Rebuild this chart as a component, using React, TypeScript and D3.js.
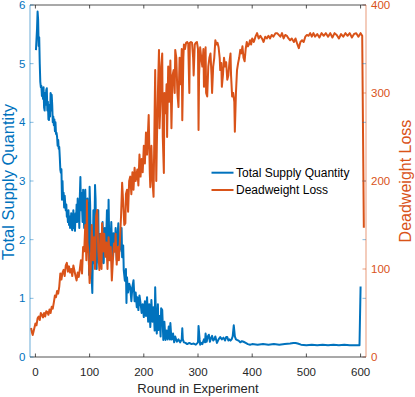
import React from 'react'
import * as d3 from 'd3'

// Total Supply Quantity (left axis)
const supplyRounds = [
  1, 3, 4, 5, 6, 7, 8, 9, 10, 11, 12, 13, 14, 15, 16, 17, 18, 19, 20, 21, 22, 23, 24, 25, 26, 27, 28, 29, 30,
  31, 32, 33, 34, 35, 36, 37, 38, 39, 40, 41, 42, 43, 44, 45, 46, 47, 48, 49, 50, 51, 52, 53, 54, 55, 56, 57,
  58, 59, 60, 61, 62, 63, 64, 65, 66, 67, 68, 69, 70, 71, 72, 73, 74, 75, 76, 77, 78, 79, 80, 81, 82, 83, 84,
  85, 86, 87, 88, 89, 90, 91, 92, 93, 94, 95, 96, 97, 98, 99, 100, 101, 102, 103, 104, 105, 106, 107, 108,
  109, 110, 111, 112, 113, 114, 115, 116, 117, 118, 119, 120, 122, 124, 126, 128, 130, 132, 134, 135, 136,
  138, 140, 142, 144, 146, 148, 150, 151, 153, 155, 157, 159, 160, 162, 163, 165, 167, 168, 169, 171, 173,
  175, 177, 179, 181, 183, 185, 187, 188, 190, 192, 194, 196, 198, 200, 202, 204, 206, 208, 210, 212, 214,
  216, 218, 220, 221, 223, 224, 226, 227, 229, 231, 232, 234, 236, 238, 240, 242, 244, 246, 248, 249, 251,
  252, 254, 256, 258, 261, 264, 267, 270, 271, 272, 274, 277, 280, 284, 288, 292, 296, 300, 301, 303, 304,
  306, 308, 311, 313, 314, 316, 318, 320, 322, 324, 326, 328, 330, 332, 335, 338, 341, 344, 347, 350, 352,
  354, 356, 358, 360, 362, 364, 366, 368, 370, 372, 375, 378, 381, 384, 388, 392, 396, 400, 410, 420, 430,
  440, 450, 460, 470, 476, 480, 484, 490, 500, 510, 520, 530, 540, 550, 560, 570, 580, 590, 598, 600,
]
const supplyValues = [
  5.23, 5.6, 5.89, 5.75, 5.3, 5.45, 5.0, 4.69, 4.6, 4.62, 4.45, 4.55, 4.4, 4.6, 4.25, 4.2, 4.5, 4.3, 4.55,
  4.58, 4.2, 4.35, 4.05, 4.04, 4.3, 4.1, 4.5, 4.2, 4.47, 4.3, 4.0, 4.1, 3.95, 4.05, 3.85, 4.0, 3.8, 3.82,
  3.75, 3.6, 3.7, 3.55, 3.58, 3.4, 3.19, 3.14, 3.2, 2.68, 3.0, 2.7, 2.8, 2.55, 2.75, 2.62, 2.5, 2.6, 2.39,
  2.45, 2.3, 2.5, 2.25, 2.4, 2.2, 2.25, 2.45, 2.2, 2.16, 2.3, 2.5, 2.2, 2.4, 2.15, 2.45, 2.3, 2.6, 2.3, 2.7,
  2.4, 2.55, 2.2, 2.75, 3.07, 2.5, 2.8, 2.56, 2.3, 2.85, 2.4, 2.2, 2.7, 2.85, 2.4, 2.1, 2.45, 2.7, 2.0, 2.4,
  1.4, 2.9, 2.6, 1.8, 2.2, 1.3, 1.09, 1.8, 2.5, 1.6, 2.2, 2.93, 2.7, 2.0, 1.5, 2.28, 1.9, 2.5, 1.6, 2.1, 1.7,
  2.0, 1.6, 2.3, 1.6, 2.2, 1.8, 2.5, 1.9, 2.68, 2.1, 1.82, 2.3, 1.7, 2.11, 1.8, 2.2, 1.65, 2.0, 2.28, 1.8,
  1.87, 2.2, 1.7, 1.9, 1.48, 1.3, 1.5, 0.92, 1.36, 1.1, 1.25, 1.19, 0.95, 1.2, 1.31, 0.95, 1.1, 0.85, 1.02,
  0.8, 1.05, 0.92, 0.75, 0.9, 0.68, 0.95, 0.7, 1.02, 0.6, 0.9, 0.51, 0.97, 0.6, 0.85, 0.45, 1.19, 0.5, 0.4,
  0.9, 0.46, 0.7, 0.35, 0.83, 0.8, 0.29, 0.6, 0.29, 0.45, 0.3, 0.52, 0.3, 0.58, 0.3, 0.3, 0.4, 0.25, 0.35,
  0.26, 0.3, 0.25, 0.3, 0.49, 0.3, 0.25, 0.24, 0.22, 0.24, 0.22, 0.23, 0.21, 0.25, 0.53, 0.3, 0.21, 0.24,
  0.22, 0.3, 0.25, 0.4, 0.26, 0.35, 0.38, 0.26, 0.32, 0.36, 0.28, 0.3, 0.35, 0.24, 0.3, 0.34, 0.3, 0.33,
  0.28, 0.34, 0.34, 0.28, 0.3, 0.28, 0.3, 0.35, 0.54, 0.35, 0.3, 0.29, 0.28, 0.25, 0.27, 0.26, 0.24, 0.22,
  0.21, 0.22, 0.21, 0.22, 0.21, 0.22, 0.21, 0.22, 0.23, 0.24, 0.24, 0.23, 0.21, 0.2, 0.21, 0.2, 0.21, 0.2,
  0.21, 0.2, 0.21, 0.2, 0.2, 0.2, 1.2,
]

// Deadweight Loss (right axis)
const lossRounds = [
  -8, -6, -5, -3, 0, 2, 4, 6, 8, 10, 12, 14, 16, 18, 20, 22, 24, 26, 28, 30, 32, 34, 36, 38, 40, 42, 44, 46,
  48, 50, 52, 54, 56, 58, 60, 62, 64, 66, 68, 70, 72, 74, 76, 78, 80, 82, 84, 86, 88, 90, 92, 94, 95, 96, 98,
  100, 102, 104, 106, 108, 110, 112, 114, 116, 118, 120, 122, 123, 125, 127, 129, 131, 133, 135, 137, 139,
  141, 143, 145, 147, 148, 150, 152, 154, 156, 158, 160, 162, 164, 166, 167, 169, 171, 173, 175, 177, 179,
  181, 183, 185, 188, 190, 192, 194, 196, 198, 200, 202, 204, 206, 209, 211, 212, 214, 216, 218, 220, 221,
  223, 224, 226, 228, 229, 231, 232, 234, 235, 237, 238, 240, 242, 243, 245, 247, 249, 251, 253, 255, 257,
  258, 260, 262, 264, 266, 268, 270, 271, 273, 274, 276, 278, 280, 282, 284, 285, 287, 289, 291, 292, 294,
  296, 298, 300, 301, 302, 304, 306, 308, 310, 311, 313, 314, 315, 317, 319, 321, 323, 325, 326, 328, 330,
  332, 334, 336, 338, 340, 341, 343, 344, 346, 348, 350, 352, 354, 356, 358, 360, 361, 363, 365, 367, 368,
  370, 372, 374, 376, 378, 380, 382, 384, 386, 388, 390, 392, 394, 396, 398, 400, 403, 406, 409, 412, 415,
  418, 421, 424, 427, 430, 433, 436, 439, 443, 446, 449, 452, 455, 458, 461, 464, 467, 470, 473, 477, 480,
  483, 486, 489, 492, 495, 498, 501, 504, 507, 510, 513, 516, 520, 524, 528, 532, 536, 540, 544, 548, 552,
  556, 560, 564, 568, 572, 576, 580, 584, 588, 592, 596, 600, 603, 606,
]
const lossValues = [
  33, 27, 25, 30, 38, 36, 44, 46, 42, 50, 48, 45, 50, 46, 52, 51, 48, 54, 50, 57, 55, 62, 70, 68, 75, 72, 80,
  95, 88, 96, 99, 92, 104, 107, 97, 103, 96, 100, 92, 104, 98, 92, 87, 96, 91, 100, 110, 95, 125, 120, 150,
  110, 178, 130, 118, 84, 100, 150, 110, 136, 100, 160, 167, 120, 99, 140, 100, 152, 120, 140, 114, 130, 100,
  136, 110, 125, 87, 110, 129, 120, 140, 105, 125, 110, 133, 160, 198, 175, 150, 152, 185, 190, 165, 200, 205,
  185, 210, 190, 215, 200, 213, 195, 230, 205, 225, 210, 240, 220, 255, 230, 275, 210, 193, 240, 200, 182,
  280, 326, 200, 239, 300, 349, 260, 292, 330, 345, 250, 209, 300, 277, 310, 250, 330, 290, 337, 260, 320,
  326, 300, 349, 340, 300, 284, 340, 310, 350, 269, 340, 355, 350, 357, 358, 356, 300, 357, 358, 357, 340,
  320, 355, 357, 358, 350, 258, 320, 352, 340, 330, 350, 307, 320, 352, 300, 296, 330, 340, 345, 320, 300,
  330, 340, 360, 355, 357, 352, 340, 326, 334, 307, 320, 340, 330, 335, 315, 320, 335, 345, 320, 296, 300,
  290, 256, 300, 326, 334, 340, 349, 345, 353, 340, 336, 350, 358, 353, 355, 360, 355, 362, 358, 364, 368,
  362, 365, 362, 358, 364, 362, 365, 362, 366, 364, 368, 368, 366, 364, 368, 362, 366, 365, 362, 360, 362,
  358, 362, 356, 351, 358, 360, 358, 364, 366, 365, 368, 364, 368, 364, 367, 363, 368, 365, 368, 364, 368,
  363, 368, 366, 362, 367, 364, 368, 365, 368, 363, 367, 368, 364, 368, 365, 147,
]

const xTicks = [0, 100, 200, 300, 400, 500, 600]
const leftTicks = [0, 1, 2, 3, 4, 5, 6]
const rightTicks = [0, 100, 200, 300, 400]

const BLUE = '#0072BD'
const ORANGE = '#D95319'
const DARK = '#262626'
const FONT = '"Liberation Sans", Arial, Helvetica, sans-serif'

export default function App() {
  const W = 415, H = 397
  const m = { left: 30, right: 366, top: 5, bottom: 357 }

  const x = d3.scaleLinear().domain([-10, 610]).range([m.left, m.right])
  const yL = d3.scaleLinear().domain([0, 6]).range([m.bottom, m.top])
  const yR = d3.scaleLinear().domain([0, 400]).range([m.bottom, m.top])

  const supply = supplyRounds.map((r, i) => [r, supplyValues[i]] as [number, number])
  const loss = lossRounds.map((r, i) => [r, lossValues[i]] as [number, number])

  const lineL = d3.line<[number, number]>().x(d => x(d[0])).y(d => yL(d[1]))
  const lineR = d3.line<[number, number]>().x(d => x(d[0])).y(d => yR(d[1]))

  const tk = 3.5

  return (
    <svg width={W} height={H} style={{ position: 'absolute', left: 0, top: 0, background: '#fff' }} fontFamily={FONT}>
      <rect width={W} height={H} fill="#fff" />

      {/* data */}
      <path d={lineL(supply) || ''} fill="none" stroke={BLUE} strokeWidth={2} strokeLinejoin="round" />
      <path d={lineR(loss) || ''} fill="none" stroke={ORANGE} strokeWidth={2} strokeLinejoin="round" />

      {/* box: top / bottom */}
      <line x1={m.left} x2={m.right} y1={m.top} y2={m.top} stroke={DARK} strokeWidth={0.8} />
      <line x1={m.left} x2={m.right} y1={m.bottom} y2={m.bottom} stroke={DARK} strokeWidth={0.8} />

      {/* x ticks */}
      {xTicks.map(t => (
        <g key={'x' + t}>
          <line x1={x(t)} x2={x(t)} y1={m.bottom} y2={m.bottom - tk} stroke={DARK} strokeWidth={0.8} />
          <line x1={x(t)} x2={x(t)} y1={m.top} y2={m.top + tk} stroke={DARK} strokeWidth={0.8} />
          <text x={x(t)} y={376} textAnchor="middle" fontSize={11.5} fill={DARK}>{t}</text>
        </g>
      ))}

      {/* left axis */}
      <line x1={m.left} x2={m.left} y1={m.top} y2={m.bottom} stroke={BLUE} strokeOpacity={0.45} strokeWidth={1.3} />
      {leftTicks.map(t => (
        <g key={'l' + t}>
          <line x1={m.left} x2={m.left + tk} y1={yL(t)} y2={yL(t)} stroke={BLUE} strokeOpacity={0.6} strokeWidth={0.8} />
          <line x1={m.right} x2={m.right - tk} y1={yL(t)} y2={yL(t)} stroke={BLUE} strokeOpacity={0.6} strokeWidth={0.8} />
          <text x={25.5} y={yL(t) + 4} textAnchor="end" fontSize={11.5} fill={BLUE}>{t}</text>
        </g>
      ))}

      {/* right axis */}
      <line x1={m.right} x2={m.right} y1={m.top} y2={m.bottom} stroke={ORANGE} strokeOpacity={0.45} strokeWidth={1.3} />
      {rightTicks.map(t => (
        <g key={'r' + t}>
          <line x1={m.right} x2={m.right - tk} y1={yR(t)} y2={yR(t)} stroke={ORANGE} strokeOpacity={0.7} strokeWidth={0.8} />
          <text x={371} y={yR(t) + 4} textAnchor="start" fontSize={11.5} fill={ORANGE}>{t}</text>
        </g>
      ))}

      {/* axis labels */}
      <text x={198} y={393} textAnchor="middle" fontSize={13} fill={DARK}>Round in Experiment</text>
      <text transform={`translate(14,${182}) rotate(-90)`} textAnchor="middle" fontSize={16.5} fill={BLUE}>Total Supply Quantity</text>
      <text transform={`translate(411,${181}) rotate(-90)`} textAnchor="middle" fontSize={16} fill={ORANGE}>Deadweight Loss</text>

      {/* legend */}
      <g fontSize={12} fill="#000">
        <line x1={211.5} x2={233.5} y1={172.7} y2={172.7} stroke={BLUE} strokeWidth={2} />
        <text x={236} y={177}>Total Supply Quantity</text>
        <line x1={211.5} x2={233.5} y1={190} y2={190} stroke={ORANGE} strokeWidth={2} />
        <text x={236} y={194.3}>Deadweight Loss</text>
      </g>
    </svg>
  )
}
